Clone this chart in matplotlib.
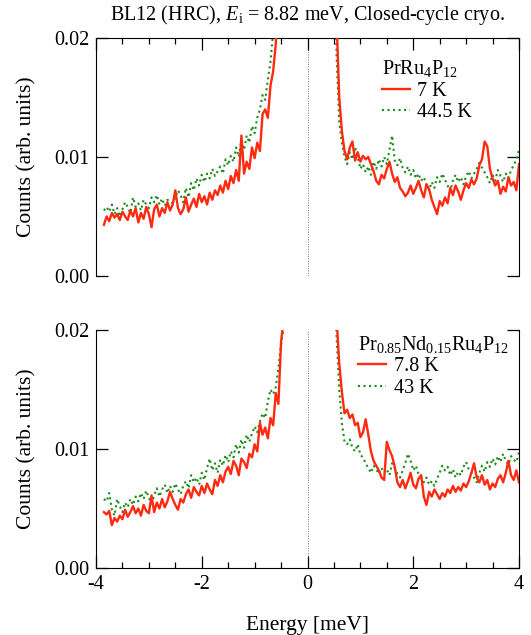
"""Inelastic spectra near the quasielastic line, BL12 (HRC), Ei = 8.82 meV.
Two stacked panels (PrRu4P12 / Pr0.85Nd0.15Ru4P12), each at a low and a high temperature."""
import matplotlib
matplotlib.use("Agg")
import matplotlib.pyplot as plt
from matplotlib.ticker import MultipleLocator
import numpy as np

plt.rcParams.update({
    "font.family": "Liberation Serif",
    "mathtext.fontset": "custom",
    "mathtext.rm": "Liberation Serif",
    "mathtext.it": "Liberation Serif:italic",
    "axes.unicode_minus": False,
    "font.size": 14.5,
})

# energy bins (meV), 0.05 meV steps on each side of the elastic line
E_NEG = np.round(np.arange(-3.85, -0.449, 0.05), 2)
E_POS = np.round(np.arange(0.45, 4.001, 0.05), 2)

# --- PrRu4P12 ---
pr_7K_neg = [0.0043, 0.0050, 0.0046, 0.0053, 0.0049, 0.0052, 0.0047, 0.0054, 0.0050, 0.0047,
             0.0055, 0.0050, 0.0057, 0.0045, 0.0053, 0.0048, 0.0058, 0.0052, 0.0041, 0.0056,
             0.0060, 0.0050, 0.0057, 0.0053, 0.0062, 0.0055, 0.0060, 0.0072, 0.0057, 0.0052,
             0.0056, 0.0066, 0.0054, 0.0060, 0.0065, 0.0058, 0.0069, 0.0062, 0.0067, 0.0060,
             0.0070, 0.0064, 0.0072, 0.0068, 0.0076, 0.0070, 0.0080, 0.0073, 0.0084, 0.0078,
             0.0089, 0.0080, 0.0118, 0.0086, 0.0096, 0.0090, 0.0108, 0.0099, 0.0112, 0.0105,
             0.0136, 0.0140, 0.0133, 0.0160, 0.0172, 0.0195, 0.0230, 0.0280, 0.0350]
pr_7K_pos = [0.0400, 0.0300, 0.0215, 0.0150, 0.0122, 0.0105, 0.0098, 0.0108, 0.0113, 0.0097,
             0.0104, 0.0096, 0.0101, 0.0098, 0.0100, 0.0094, 0.0088, 0.0080, 0.0077, 0.0085,
             0.0082, 0.0090, 0.0096, 0.0086, 0.0079, 0.0083, 0.0074, 0.0071, 0.0067, 0.0070,
             0.0076, 0.0069, 0.0074, 0.0080, 0.0072, 0.0066, 0.0077, 0.0073, 0.0064, 0.0058,
             0.0052, 0.0063, 0.0059, 0.0066, 0.0061, 0.0074, 0.0068, 0.0076, 0.0071, 0.0064,
             0.0072, 0.0078, 0.0074, 0.0081, 0.0077, 0.0082, 0.0093, 0.0098, 0.0113, 0.0109,
             0.0090, 0.0082, 0.0076, 0.0080, 0.0069, 0.0075, 0.0071, 0.0083, 0.0076, 0.0079,
             0.0072, 0.0094]
pr_44K_neg = [0.0055, 0.0058, 0.0054, 0.0060, 0.0052, 0.0057, 0.0050, 0.0056, 0.0062, 0.0058,
              0.0053, 0.0066, 0.0058, 0.0061, 0.0055, 0.0064, 0.0060, 0.0057, 0.0066, 0.0062,
              0.0068, 0.0060, 0.0065, 0.0059, 0.0064, 0.0063, 0.0061, 0.0066, 0.0072, 0.0068,
              0.0062, 0.0074, 0.0066, 0.0078, 0.0072, 0.0082, 0.0076, 0.0085, 0.0079, 0.0086,
              0.0082, 0.0090, 0.0084, 0.0088, 0.0092, 0.0086, 0.0098, 0.0093, 0.0101, 0.0096,
              0.0108, 0.0100, 0.0114, 0.0106, 0.0118, 0.0112, 0.0126, 0.0120, 0.0133, 0.0140,
              0.0152, 0.0148, 0.0165, 0.0180, 0.0205, 0.0240, 0.0290, 0.0340, 0.0400]
pr_44K_pos = [0.0400, 0.0280, 0.0185, 0.0130, 0.0112, 0.0100, 0.0094, 0.0104, 0.0098, 0.0108,
              0.0100, 0.0090, 0.0094, 0.0087, 0.0092, 0.0085, 0.0096, 0.0090, 0.0098, 0.0092,
              0.0100, 0.0094, 0.0106, 0.0118, 0.0097, 0.0093, 0.0099, 0.0091, 0.0087, 0.0092,
              0.0085, 0.0089, 0.0082, 0.0086, 0.0080, 0.0083, 0.0077, 0.0072, 0.0079, 0.0074,
              0.0083, 0.0079, 0.0086, 0.0081, 0.0076, 0.0071, 0.0080, 0.0085, 0.0079, 0.0083,
              0.0077, 0.0084, 0.0088, 0.0082, 0.0086, 0.0090, 0.0095, 0.0091, 0.0087, 0.0083,
              0.0078, 0.0085, 0.0080, 0.0089, 0.0084, 0.0079, 0.0086, 0.0082, 0.0089, 0.0093,
              0.0098, 0.0106]

# --- Pr0.85Nd0.15Ru4P12 ---
nd_7K_neg = [0.0047, 0.0045, 0.0048, 0.0036, 0.0042, 0.0039, 0.0044, 0.0041, 0.0049, 0.0043,
             0.0047, 0.0052, 0.0046, 0.0050, 0.0044, 0.0053, 0.0048, 0.0046, 0.0061, 0.0047,
             0.0055, 0.0050, 0.0058, 0.0051, 0.0056, 0.0064, 0.0058, 0.0053, 0.0049, 0.0058,
             0.0055, 0.0062, 0.0066, 0.0059, 0.0068, 0.0064, 0.0061, 0.0069, 0.0063, 0.0071,
             0.0066, 0.0062, 0.0074, 0.0069, 0.0078, 0.0072, 0.0081, 0.0085, 0.0079, 0.0090,
             0.0086, 0.0078, 0.0092, 0.0089, 0.0084, 0.0096, 0.0093, 0.0104, 0.0098, 0.0122,
             0.0112, 0.0118, 0.0109, 0.0126, 0.0120, 0.0147, 0.0138, 0.0190, 0.0210]
nd_7K_pos = [0.0400, 0.0300, 0.0210, 0.0172, 0.0148, 0.0130, 0.0133, 0.0126, 0.0129, 0.0120,
             0.0122, 0.0110, 0.0114, 0.0125, 0.0112, 0.0098, 0.0090, 0.0086, 0.0082, 0.0076,
             0.0074, 0.0106, 0.0099, 0.0094, 0.0085, 0.0072, 0.0068, 0.0074, 0.0067, 0.0073,
             0.0080, 0.0070, 0.0067, 0.0075, 0.0078, 0.0060, 0.0053, 0.0064, 0.0060, 0.0066,
             0.0062, 0.0058, 0.0063, 0.0060, 0.0066, 0.0063, 0.0069, 0.0064, 0.0068, 0.0065,
             0.0071, 0.0068, 0.0073, 0.0080, 0.0088, 0.0076, 0.0072, 0.0078, 0.0070, 0.0074,
             0.0066, 0.0071, 0.0068, 0.0075, 0.0078, 0.0072, 0.0080, 0.0090, 0.0078, 0.0074,
             0.0082, 0.0072]
nd_43K_neg = [0.0058, 0.0056, 0.0063, 0.0049, 0.0044, 0.0058, 0.0052, 0.0047, 0.0055, 0.0051,
              0.0058, 0.0053, 0.0060, 0.0056, 0.0063, 0.0058, 0.0065, 0.0059, 0.0054, 0.0061,
              0.0067, 0.0060, 0.0066, 0.0070, 0.0063, 0.0069, 0.0064, 0.0071, 0.0066, 0.0062,
              0.0069, 0.0073, 0.0067, 0.0078, 0.0072, 0.0076, 0.0070, 0.0080, 0.0074, 0.0084,
              0.0092, 0.0082, 0.0088, 0.0080, 0.0091, 0.0086, 0.0095, 0.0089, 0.0098, 0.0093,
              0.0104, 0.0097, 0.0108, 0.0101, 0.0112, 0.0106, 0.0113, 0.0119, 0.0114, 0.0123,
              0.0130, 0.0126, 0.0140, 0.0150, 0.0146, 0.0152, 0.0168, 0.0188, 0.0202]
nd_43K_pos = [0.0400, 0.0280, 0.0195, 0.0150, 0.0122, 0.0106, 0.0104, 0.0108, 0.0101, 0.0098,
              0.0104, 0.0095, 0.0093, 0.0088, 0.0084, 0.0080, 0.0086, 0.0083, 0.0079, 0.0084,
              0.0080, 0.0083, 0.0078, 0.0088, 0.0084, 0.0079, 0.0076, 0.0082, 0.0088, 0.0096,
              0.0090, 0.0082, 0.0086, 0.0079, 0.0075, 0.0072, 0.0076, 0.0070, 0.0073, 0.0069,
              0.0075, 0.0080, 0.0086, 0.0082, 0.0085, 0.0078, 0.0083, 0.0076, 0.0081, 0.0078,
              0.0085, 0.0089, 0.0083, 0.0080, 0.0076, 0.0072, 0.0080, 0.0086, 0.0081, 0.0089,
              0.0085, 0.0092, 0.0087, 0.0094, 0.0089, 0.0096, 0.0090, 0.0087, 0.0094, 0.0091,
              0.0089, 0.0097]

RED, GREEN = "#ff2a10", "#1f8a1f"

fig = plt.figure(figsize=(5.31, 6.35), dpi=100)
ax_top = fig.add_axes([0.1808, 0.5654, 0.7966, 0.3748])
ax_bot = fig.add_axes([0.1808, 0.1055, 0.7966, 0.3748])

panels = [
    (ax_top, "PrRu$_4$P$_{12}$", ("7 K", pr_7K_neg, pr_7K_pos), ("44.5 K", pr_44K_neg, pr_44K_pos),
     (0.675, 0.915)),
    (ax_bot, "Pr$_{0.85}$Nd$_{0.15}$Ru$_4$P$_{12}$", ("7.8 K", nd_7K_neg, nd_7K_pos),
     ("43 K", nd_43K_neg, nd_43K_pos), (0.620, 0.985)),
]

for ax, name, (lab_lo, lo_neg, lo_pos), (lab_hi, hi_neg, hi_pos), leg_xy in panels:
    ax.axvline(0, color="0.45", lw=0.7, ls=(0, (1, 1.5)), zorder=1)
    l1, = ax.plot(E_NEG, lo_neg, color=RED, lw=1.7, zorder=3)
    ax.plot(E_POS, lo_pos, color=RED, lw=1.7, zorder=3)
    l2, = ax.plot(E_NEG, hi_neg, color=GREEN, lw=1.5, ls=":", zorder=2)
    ax.plot(E_POS, hi_pos, color=GREEN, lw=1.5, ls=":", zorder=2)
    ax.set_xlim(-4, 4)
    ax.set_ylim(0, 0.02)
    ax.set_yticks([0, 0.01, 0.02])
    ax.set_yticklabels(["0.00", "0.01", "0.02"])
    ax.xaxis.set_major_locator(MultipleLocator(2))
    ax.xaxis.set_minor_locator(MultipleLocator(0.5))
    ax.set_ylabel("Counts (arb. units)", fontsize=15.5)
    ax.yaxis.set_label_coords(-0.14, 0.5)
    leg = ax.legend([l1, l2], [lab_lo, lab_hi], title=name, loc="upper left",
                    bbox_to_anchor=leg_xy, alignment="left", frameon=False,
                    handlelength=1.4, handletextpad=0.35, labelspacing=0.12,
                    borderpad=0, borderaxespad=0, fontsize=14.5, title_fontsize=14.5)
    ax.tick_params(which="both", direction="in", right=True, width=0.9, pad=5)
    ax.tick_params(which="major", length=8.5)
    ax.tick_params(which="minor", length=4.5)
    ax.tick_params(axis="y", which="minor", left=False, right=False)

# the two panels share the x-axis: ticks only on the outer edges
ax_top.spines["bottom"].set_visible(False)
ax_top.tick_params(axis="x", which="both", top=True, bottom=False, labelbottom=False)
ax_bot.spines["top"].set_visible(False)
ax_bot.tick_params(axis="x", which="both", top=False, bottom=True)
ax_bot.set_xlabel("Energy [meV]", fontsize=15.5, labelpad=16)

ax_top.set_title("BL12 (HRC), $E_\\mathrm{i}$ = 8.82 meV, Closed-cycle cryo.", fontsize=14.5, pad=13)

fig.savefig("out.png", dpi=100)
